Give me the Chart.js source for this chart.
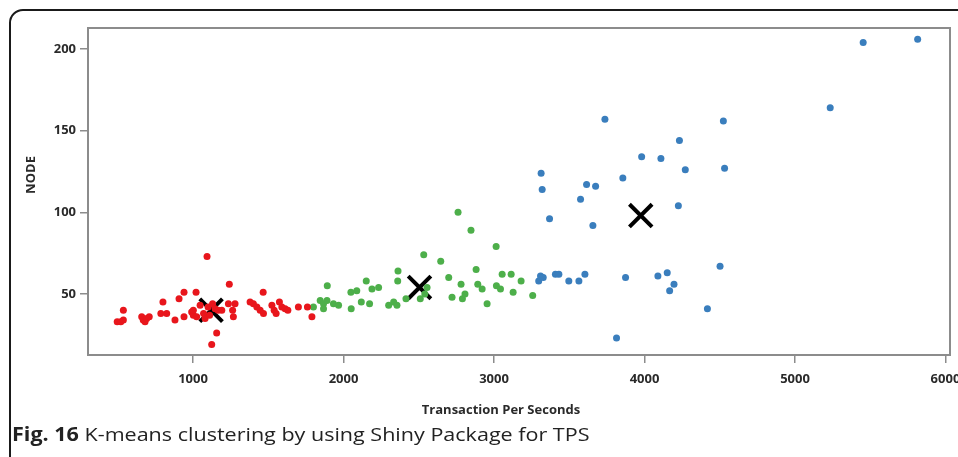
<!DOCTYPE html>
<html>
<head>
<meta charset="utf-8">
<script src="https://cdn.jsdelivr.net/npm/chart.js@4.4.1/dist/chart.umd.min.js"></script>
<style>
  html, body { margin: 0; padding: 0; width: 958px; height: 457px; overflow: hidden; background: #fff; }
  #frame { position: absolute; left: 9px; top: 9px; width: 1000px; height: 520px; border: 2px solid #1a1a1a; border-radius: 14px; box-sizing: border-box; }
  #wrap { position: absolute; left: 0; top: 0; width: 1002px; height: 457px; }
  #caption { position: absolute; left: 12px; top: 421px; font-family: "Open Sans"; font-size: 19px; color: #222; white-space: nowrap; transform-origin: 0 0; }
</style>
</head>
<body>
<div id="frame"></div>
<div id="wrap"><canvas id="c" width="1002" height="457"></canvas></div>
<div id="caption"><b>Fig. 16</b> K-means clustering by using Shiny Package for TPS</div>
<script>
// points: [transactions per second, node]
const redPoints = [
  [496,33],[520,33],[537,34],[537,40],[659,36],[669,34],[681,33],[692,35],[709,36],[786,38],
  [825,38],[800,45],[880,34],[907,47],[940,36],[940,51],[991,39],[1002,37],[1002,40],[1024,36],
  [1020,51],[1047,43],[1070,38],[1080,35],[1093,73],[1100,42],[1110,37],[1124,19],[1130,44],[1147,41],
  [1157,26],[1167,40],[1191,40],[1235,44],[1241,56],[1263,40],[1268,36],[1279,44],[1379,45],[1401,44],
  [1424,42],[1446,40],[1466,51],[1468,38],[1524,43],[1539,40],[1552,38],[1574,45],[1590,42],[1612,41],
  [1630,40],[1700,42],[1760,42],[1790,36]
];
const greenPoints = [
  [1800,42],[1845,46],[1867,44],[1867,41],[1890,46],[1892,55],[1933,44],[1967,43],[2049,51],[2051,41],
  [2088,52],[2118,45],[2151,58],[2173,44],[2189,53],[2233,54],[2300,43],[2333,45],[2355,43],[2360,58],
  [2362,64],[2415,47],[2510,47],[2533,74],[2540,50],[2555,54],[2646,70],[2699,60],[2721,48],[2761,100],
  [2781,56],[2790,47],[2807,50],[2847,89],[2881,65],[2892,56],[2921,53],[2954,44],[3014,79],[3016,55],
  [3043,53],[3054,62],[3114,62],[3127,51],[3180,58],[3257,49]
];
const bluePoints = [
  [3297,58],[3309,61],[3313,124],[3320,114],[3327,60],[3369,96],[3408,62],[3431,62],[3497,58],[3564,58],
  [3575,108],[3604,62],[3615,117],[3657,92],[3675,116],[3737,157],[3814,23],[3856,121],[3874,60],[3981,134],
  [4089,61],[4109,133],[4151,63],[4167,52],[4196,56],[4225,104],[4232,144],[4271,126],[4418,41],[4502,67],
  [4524,156],[4532,127],[5234,164],[5453,204],[5815,206]
];
const centers = [[1120,40],[2505,54],[3975,98]];

const xTicks = [1000, 2000, 3000, 4000, 5000, 6000];
const yTicks = [50, 100, 150, 200];

const toXY = arr => arr.map(p => ({x: p[0], y: p[1]}));

const plotFrame = {
  id: 'plotFrame',
  beforeDatasetsDraw(chart) {
    const {ctx, chartArea: a} = chart;
    ctx.save();
    ctx.strokeStyle = '#8c8c8c';
    ctx.lineWidth = 2;
    ctx.strokeRect(a.left, a.top, a.right - a.left, a.bottom - a.top);
    ctx.restore();
  },
  afterDraw(chart) {
    const ctx = chart.ctx;
    ctx.save();
    ctx.fillStyle = '#2a2a2a';
    ctx.font = 'bold 13px "Open Sans"';
    ctx.textAlign = 'center';
    ctx.textBaseline = 'middle';
    ctx.fillText('Transaction Per Seconds', 501, 410);
    ctx.translate(31, 175);
    ctx.rotate(-Math.PI / 2);
    ctx.fillText('NODE', 0, 0);
    ctx.restore();
  }
};

const dot = (data, color) => ({
  data: toXY(data), backgroundColor: color, borderWidth: 0, pointRadius: 3.5, pointStyle: 'circle'
});

const tickFont = {family: 'Open Sans', weight: 'bold', size: 13};

new Chart(document.getElementById('c'), {
  type: 'scatter',
  data: {
    datasets: [
      dot(redPoints, '#e8161c'),
      dot(greenPoints, '#4daf4a'),
      dot(bluePoints, '#3a7ebd'),
      {data: toXY(centers), pointStyle: 'crossRot', pointRadius: 16, borderColor: '#000', borderWidth: 4, backgroundColor: '#000'}
    ]
  },
  options: {
    responsive: false,
    devicePixelRatio: 1,
    animation: false,
    events: [],
    layout: {padding: {left: 0, top: 28, right: 52, bottom: 0}},
    plugins: {legend: {display: false}, tooltip: {enabled: false}},
    scales: {
      x: {
        type: 'linear', min: 302, max: 6030,
        afterBuildTicks: s => { s.ticks = xTicks.map(v => ({value: v})); },
        afterFit: s => { s.height = 102; },
        border: {display: false},
        grid: {drawOnChartArea: false, drawTicks: true, tickLength: 8, color: '#8c8c8c', lineWidth: 1.5},
        ticks: {padding: 8, color: '#2a2a2a', font: tickFont, maxRotation: 0, callback: v => String(v)}
      },
      y: {
        type: 'linear', min: 12.6, max: 212.9,
        afterBuildTicks: s => { s.ticks = yTicks.map(v => ({value: v})); },
        afterFit: s => { s.width = 88; },
        border: {display: false},
        grid: {drawOnChartArea: false, drawTicks: true, tickLength: 8, color: '#8c8c8c', lineWidth: 1.5},
        ticks: {padding: 4, color: '#2a2a2a', font: tickFont, callback: v => String(v)}
      }
    }
  },
  plugins: [plotFrame]
});

// squeeze the caption to the width it has in the figure
const cap = document.getElementById('caption');
cap.style.transform = 'scaleX(' + (578 / cap.offsetWidth) + ')';
</script>
</body>
</html>
